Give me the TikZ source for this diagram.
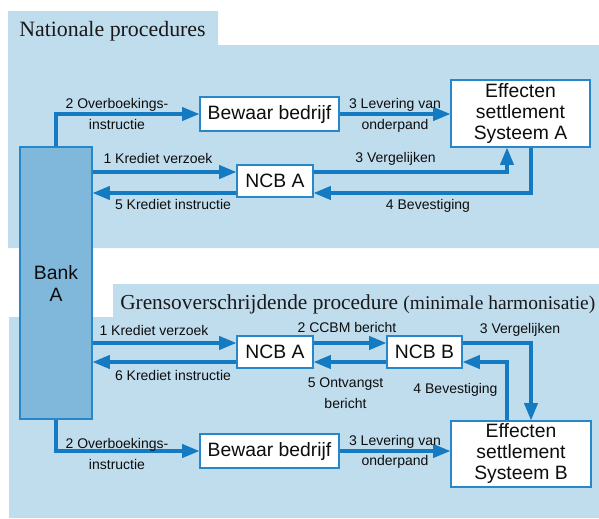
\documentclass[tikz,border=0pt]{standalone}
\usepackage{fontspec}
\setmainfont{Liberation Serif}
\setsansfont{Liberation Sans}
\usetikzlibrary{arrows.meta}
\definecolor{panelblue}{RGB}{192,221,238}
\definecolor{bankfill}{RGB}{128,184,220}
\definecolor{linkblue}{RGB}{20,122,193}
\definecolor{boxline}{RGB}{40,135,200}
\begin{document}
\begin{tikzpicture}[x=0.75pt,y=-0.75pt,
  panel/.style={fill=panelblue,draw=none},
  box/.style={draw=boxline,line width=0.9pt,fill=white,inner sep=0pt,align=center,
    font=\sffamily\fontsize{14.5}{15.75}\selectfont,text=black!95},
  bankbox/.style={draw=boxline,line width=0.9pt,fill=bankfill,inner sep=0pt,align=center,
    font=\sffamily\fontsize{14.5}{16.5}\selectfont,text=black!95},
  flow/.style={draw=linkblue,line width=2.4pt,-{Triangle[length=13pt,width=10pt]}},
  lbl/.style={font=\sffamily\fontsize{10.5}{15.5}\selectfont,align=center,inner sep=0pt,text=black!95},
  ttl/.style={font=\rmfamily\fontsize{16.4}{18}\selectfont,inner sep=0pt,anchor=base west,text=black!90}
]
\useasboundingbox (0,0) rectangle (599,518);

% panels
\fill[panel] (8,11) -- (218,11) -- (218,45) -- (599,45) -- (599,248) -- (8,248) -- cycle;
\fill[panel] (113,284) -- (599,284) -- (599,518) -- (9,518) -- (9,317) -- (113,317) -- cycle;

\node[ttl] (t1) at (19,36) {Nationale procedures};
\node[ttl,font=\rmfamily\fontsize{16}{18}\selectfont] (t2) at (120,309) {Grensoverschrijdende procedure {\fontsize{14.6}{16}\selectfont(minimale harmonisatie)}};

% helper coordinates
\coordinate (x507) at (507,0);
\coordinate (x531) at (531,0);
\coordinate (y172) at (0,172);
\coordinate (y193) at (0,193);
\coordinate (y343) at (0,343);
\coordinate (y362) at (0,362);

% nodes
\node[bankbox,minimum width=54pt,minimum height=204pt] (bank) at (56,283) {Bank\\A};
\node[box,minimum width=104.25pt,minimum height=25.5pt] (bewA) at (269.5,114) {Bewaar bedrijf};
\node[box,minimum width=104.25pt,minimum height=50.25pt] (essA) at (520.5,113.5) {Effecten\\settlement\\Systeem A};
\node[box,minimum width=57pt,minimum height=24pt] (ncbA1) at (275,181) {NCB A};

\node[box,minimum width=57pt,minimum height=24pt] (ncbA2) at (275,352) {NCB A};
\node[box,minimum width=56.25pt,minimum height=24pt] (ncbB) at (424.5,352) {NCB B};
\node[box,minimum width=104.25pt,minimum height=25.5pt] (bewB) at (269.5,451) {Bewaar bedrijf};
\node[box,minimum width=105pt,minimum height=49.5pt] (essB) at (521,454) {Effecten\\settlement\\Systeem B};

% top connectors
\draw[flow] (bank.north) |- (bewA.west);
\draw[flow] (bank.east |- y172) -- (ncbA1.west |- y172);
\draw[flow] (ncbA1.west |- y193) -- (bank.east |- y193);
\draw[flow] (bewA.east) -- (bewA.east -| essA.west);
\draw[flow] (ncbA1.east |- y172) -| (x507 |- essA.south);
\draw[flow] (x531 |- essA.south) |- (ncbA1.east |- y193);

% bottom connectors
\draw[flow] (bank.east |- y343) -- (ncbA2.west |- y343);
\draw[flow] (ncbA2.west |- y362) -- (bank.east |- y362);
\draw[flow] (ncbA2.east |- y343) -- (ncbB.west |- y343);
\draw[flow] (ncbB.west |- y362) -- (ncbA2.east |- y362);
\draw[flow] (ncbB.east |- y343) -| (x531 |- essB.north);
\draw[flow] (x507 |- essB.north) |- (ncbB.east |- y362);
\draw[flow] (bank.south) |- (bewB.west);
\draw[flow] (bewB.east) -- (bewB.east -| essB.west);

% top labels
\node[lbl] (l2a) at (117,114) {2 Overboekings-\\instructie};
\node[lbl] (l1a) at (158,158) {1 Krediet verzoek};
\node[lbl] (l5a) at (173,204) {5 Krediet instructie};
\node[lbl] (l3a) at (395,115.5) {3 Levering van\\onderpand};
\node[lbl] (l3va) at (395.5,159) {3 Vergelijken};
\node[lbl] (l4a) at (428,206) {4 Bevestiging};

% bottom labels
\node[lbl] (l1b) at (154,330) {1 Krediet verzoek};
\node[lbl] (l6b) at (173,375) {6 Krediet instructie};
\node[lbl] (l2c) at (347,327) {2 CCBM bericht};
\node[lbl] (l5b) at (345.5,393) {5 Ontvangst\\bericht};
\node[lbl] (l3vb) at (520,330) {3 Vergelijken};
\node[lbl] (l4b) at (455.5,390) {4 Bevestiging};
\node[lbl] (l2b) at (117,454) {2 Overboekings-\\instructie};
\node[lbl] (l3b) at (395,452) {3 Levering van\\onderpand};
\end{tikzpicture}
\end{document}
